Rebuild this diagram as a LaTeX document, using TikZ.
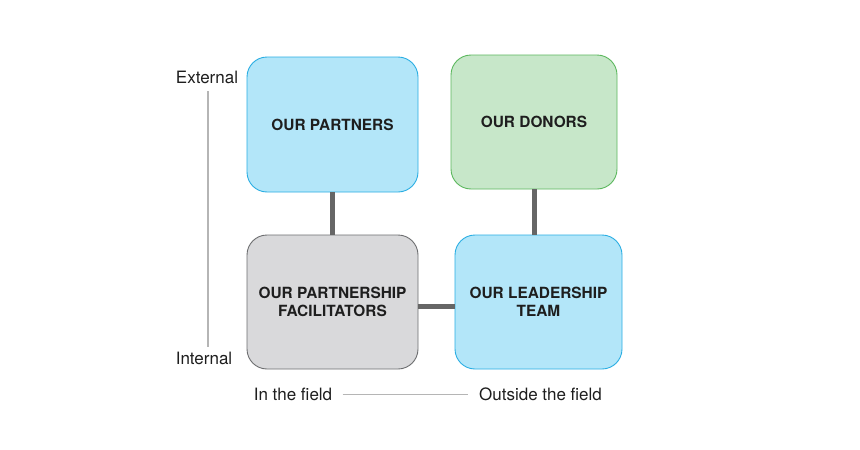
\documentclass[tikz,border=0pt]{standalone}
\usepackage{fontspec}
\setmainfont{TeX Gyre Heros}
\definecolor{bluefill}{HTML}{B3E6F9}
\definecolor{blueline}{HTML}{2AAEE3}
\definecolor{greenfill}{HTML}{C7E7C9}
\definecolor{greenline}{HTML}{5CB85E}
\definecolor{greyfill}{HTML}{D9D9DB}
\definecolor{greyline}{HTML}{6D6E70}
\definecolor{linkcol}{HTML}{666666}
\definecolor{axiscol}{HTML}{B5B5B5}
\definecolor{txt}{HTML}{1E1E1E}
\tikzset{
  box/.style={draw, line width=0.9pt, rounded corners=20pt, align=center, text=txt,
    font=\fontsize{15.4}{17.7}\selectfont\bfseries, inner sep=0pt},
  bluebox/.style={box, fill=bluefill, draw=blueline},
  greenbox/.style={box, fill=greenfill, draw=greenline},
  greybox/.style={box, fill=greyfill, draw=greyline},
  link/.style={draw=linkcol, line width=5pt},
  axis/.style={draw=axiscol, line width=1.6pt},
  lbl/.style={font=\fontsize{17}{19}\selectfont, text=txt, inner sep=0pt}
}
\begin{document}
\begin{tikzpicture}[x=1pt,y=-1pt]
\useasboundingbox[fill=white] (0,0) rectangle (860,450);
\node[bluebox, minimum width=171pt, minimum height=135pt] (partners) at (332.5,124.5) {OUR PARTNERS};
\node[greenbox, minimum width=166pt, minimum height=134pt] (donors) at (534,122) {OUR DONORS};
\node[greybox, minimum width=171pt, minimum height=134pt] (facil) at (332.5,302) {OUR PARTNERSHIP\\FACILITATORS};
\node[bluebox, minimum width=167pt, minimum height=134pt] (lead) at (538.5,302) {OUR LEADERSHIP\\TEAM};
\draw[link] (partners.south) -- (facil.north);
\draw[link] (donors.south) -- (donors.south |- lead.north);
\draw[link] ([yshift=-4pt]facil.east) -- ([yshift=-4pt]lead.west);
\node[lbl] (ext) at (207,77) {External};
\node[lbl] (int) at (204,358) {Internal};
\node[lbl] (infield) at (293,394.5) {In the field};
\node[lbl] (outfield) at (540.5,394.5) {Outside the field};
\coordinate (vtop) at (207.7,91);
\coordinate (vbot) at (207.7,347);
\coordinate (hl) at (342.7,394.5);
\coordinate (hr) at (468.3,394.5);
\draw[axis] (vtop) -- (vbot);
\draw[axis] (hl) -- (hr);
\end{tikzpicture}
\end{document}
